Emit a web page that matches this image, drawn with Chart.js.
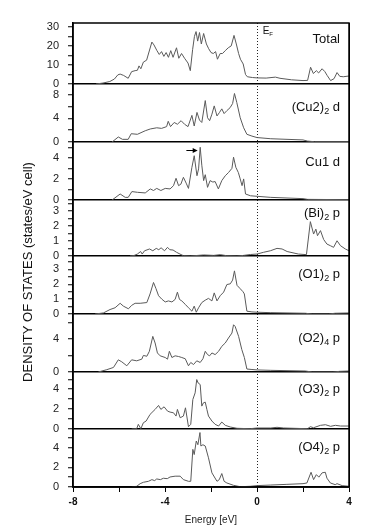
<!DOCTYPE html>
<html>
<head>
<meta charset="utf-8">
<script src="https://cdn.jsdelivr.net/npm/chart.js@4.4.1/dist/chart.umd.min.js"></script>
<style>
  html, body { margin: 0; padding: 0; background: #fff; }
  #wrap { position: relative; width: 374px; height: 532px; }
</style>
</head>
<body>
<div id="wrap"><canvas id="dos"></canvas></div>
<script>
// Energy (eV) and DOS values, one pair of arrays per panel
const totalE = [-7.0, -6.7, -6.4, -6.2, -6.05, -5.95, -5.8, -5.6, -5.45, -5.3, -5.2, -5.13, -5.05, -4.94, -4.8, -4.57, -4.48, -4.35, -4.25, -4.15, -4.05, -3.95, -3.85, -3.75, -3.65, -3.5, -3.4, -3.28, -3.15, -3.0, -2.9, -2.8, -2.72, -2.65, -2.58, -2.5, -2.42, -2.32, -2.2, -2.1, -2.0, -1.9, -1.8, -1.72, -1.6, -1.5, -1.38, -1.25, -1.12, -1.0, -0.9, -0.8, -0.72, -0.6, -0.5, -0.42, -0.2, 0, 0.4, 0.8, 1.0, 1.5, 2.0, 2.2, 2.33, 2.45, 2.58, 2.68, 2.83, 2.95, 3.05, 3.2, 3.35, 3.48, 3.6, 3.75, 4.0];
const totalDos = [0, 0.5, 1.3, 2.6, 4.8, 5.2, 4.5, 3.0, 6.5, 7.0, 7.2, 9.5, 8.0, 11.5, 12.5, 22, 20.5, 17.5, 15.5, 17, 14.5, 16.5, 14, 17.5, 14, 19, 13.5, 16, 13.5, 11, 7, 18, 25, 27.5, 22.5, 27, 21, 26.5, 21, 18.5, 16.5, 16, 17, 13, 16, 16, 17.5, 19, 20, 25.5, 21, 16, 13, 10.5, 5, 3.8, 3.4, 3.2, 3.1, 3.6, 3.0, 2.2, 1.8, 1.9, 8.8, 5.5, 7.0, 5.8, 8.0, 6.5, 4.5, 1.8, 2.8, 6.0, 4.0, 3.8, 4.2];

const cu2E = [-6.3, -6.03, -5.85, -5.6, -5.47, -5.2, -4.86, -4.64, -4.36, -4.15, -3.93, -3.86, -3.76, -3.6, -3.46, -3.3, -3.15, -3.0, -2.83, -2.73, -2.61, -2.5, -2.4, -2.25, -2.15, -2.06, -1.96, -1.86, -1.74, -1.63, -1.53, -1.43, -1.31, -1.17, -1.06, -0.98, -0.88, -0.73, -0.58, -0.44, -0.22, 0, 0.6, 2.0, 2.2, 2.5, 4.0];
const cu2Dos = [0, 0.85, 0.45, 0.45, 1.4, 1.3, 1.9, 2.2, 2.4, 2.3, 2.6, 3.5, 2.6, 3.3, 3.0, 3.6, 3.0, 2.6, 4.5, 2.7, 5.0, 3.7, 3.3, 7.0, 4.1, 3.6, 4.7, 6.1, 4.4, 5.0, 5.6, 4.8, 5.3, 5.8, 6.5, 8.2, 6.7, 4.1, 2.4, 1.3, 1.0, 0.75, 0.55, 0.35, 0.15, 0.05, 0.05];

const cu1E = [-6.3, -5.95, -5.73, -5.6, -5.44, -5.2, -4.86, -4.64, -4.5, -4.36, -4.18, -3.99, -3.78, -3.63, -3.52, -3.41, -3.31, -3.2, -3.08, -2.98, -2.83, -2.73, -2.61, -2.54, -2.47, -2.4, -2.32, -2.25, -2.15, -2.04, -1.92, -1.82, -1.68, -1.53, -1.38, -1.24, -1.09, -1.02, -0.92, -0.81, -0.73, -0.65, -0.58, -0.5, -0.28, 0, 0.6, 2.0, 2.2, 4.0];
const cu1Dos = [0, 0.57, 0.25, 0.25, 0.8, 0.73, 0.67, 1.05, 0.9, 1.1, 0.9, 1.1, 1.05, 1.36, 2.06, 1.36, 1.5, 2.15, 1.6, 1.1, 3.1, 4.2, 2.3, 2.95, 5.0, 3.3, 1.84, 2.4, 1.2, 1.84, 1.7, 1.75, 1.05, 1.84, 2.3, 2.6, 3.0, 4.06, 3.1, 2.6, 2.0, 1.36, 2.0, 0.57, 0.4, 0.35, 0.25, 0.13, 0.06, 0.03];

const biE = [-5.52, -5.35, -5.2, -5.06, -4.99, -4.89, -4.67, -4.53, -4.38, -4.27, -4.17, -4.02, -3.89, -3.79, -3.65, -3.5, -3.35, -3.2, -2.9, -2.32, -1.88, -1.6, -1.31, -0.87, -0.58, -0.29, 0, 0.29, 0.58, 0.87, 1.09, 1.31, 1.8, 2.15, 2.32, 2.46, 2.56, 2.63, 2.76, 2.9, 3.04, 3.19, 3.33, 3.48, 3.63, 3.84, 4.0];
const biDos = [0, 0.03, 0.13, 0.3, 0.13, 0.35, 0.47, 0.35, 0.51, 0.42, 0.55, 0.35, 0.58, 0.42, 0.4, 0.25, 0.13, 0.02, 0, 0.07, 0.04, 0.09, 0.02, 0, 0.04, 0.1, 0.13, 0.25, 0.35, 0.51, 0.47, 0.3, 0.13, 0.09, 2.3, 1.47, 1.8, 1.36, 1.7, 1.1, 0.8, 0.69, 0.58, 1.02, 0.69, 0.47, 0.35];

const o1E = [-7.04, -6.68, -6.39, -6.17, -5.95, -5.81, -5.59, -5.45, -5.3, -5.08, -4.79, -4.65, -4.5, -4.39, -4.28, -4.14, -3.99, -3.85, -3.7, -3.56, -3.46, -3.37, -3.27, -3.12, -2.98, -2.83, -2.73, -2.64, -2.54, -2.4, -2.25, -2.11, -1.96, -1.86, -1.74, -1.6, -1.45, -1.31, -1.16, -1.06, -0.98, -0.87, -0.73, -0.61, -0.55, -0.44, -0.22, 0, 0.6, 2.1, 2.4, 3.1, 3.4, 4.0];
const o1Dos = [0, 0.07, 0.3, 0.42, 0.72, 0.53, 0.35, 0.58, 0.72, 0.72, 0.77, 1.35, 2.12, 1.7, 1.23, 1.0, 0.81, 0.88, 0.81, 0.98, 1.47, 0.98, 0.88, 0.65, 0.42, 0.19, 0.53, 0.12, 0.42, 0.77, 0.93, 1.05, 0.88, 1.42, 0.88, 1.23, 1.47, 1.98, 2.03, 2.28, 2.9, 1.93, 1.7, 1.5, 1.35, 0.19, 0.14, 0.12, 0.09, 0.05, 0, 0, 0.05, 0.07];

const o2E = [-6.9, -6.53, -6.24, -6.03, -5.88, -5.66, -5.45, -5.23, -5.01, -4.94, -4.79, -4.68, -4.53, -4.43, -4.33, -4.21, -3.99, -3.89, -3.81, -3.7, -3.56, -3.41, -3.27, -3.12, -2.98, -2.88, -2.76, -2.62, -2.47, -2.35, -2.25, -2.15, -2.06, -1.96, -1.82, -1.67, -1.53, -1.38, -1.24, -1.09, -1.02, -0.95, -0.8, -0.66, -0.55, -0.44, -0.22, 0, 0.6, 2.1, 2.4, 3.3, 3.6, 4.0];
const o2Dos = [0, 0.28, 0.55, 1.47, 1.23, 0.75, 1.47, 1.35, 1.55, 2.0, 1.9, 2.5, 4.3, 3.5, 2.3, 1.95, 1.75, 1.55, 2.5, 1.75, 1.95, 1.87, 1.75, 1.6, 0.75, 1.15, 0.9, 1.35, 1.15, 1.6, 2.5, 2.1, 1.95, 2.3, 2.1, 2.5, 3.1, 3.5, 4.1, 4.7, 5.7, 5.5, 4.3, 2.7, 1.75, 0.36, 0.3, 0.25, 0.2, 0.12, 0, 0, 0.08, 0.12];

const o3E = [-5.45, -5.23, -5.16, -5.05, -4.94, -4.82, -4.65, -4.43, -4.28, -4.18, -4.04, -3.89, -3.78, -3.63, -3.52, -3.46, -3.34, -3.2, -3.11, -2.98, -2.88, -2.79, -2.69, -2.62, -2.56, -2.47, -2.4, -2.33, -2.25, -2.18, -2.11, -1.96, -1.82, -1.67, -1.53, -1.38, -1.16, -0.87, -0.3, 0, 0.6, 0.87, 1.16, 2.2, 2.32, 2.46, 2.76, 2.98, 3.2, 3.41, 3.63, 4.0];
const o3Dos = [0, 0.03, 0.47, 0.03, 0.63, 0.8, 1.47, 1.97, 2.37, 1.97, 2.23, 1.8, 1.7, 1.63, 1.3, 1.97, 1.13, 1.3, 2.13, 0.23, 0.47, 2.97, 3.63, 4.97, 4.63, 4.47, 2.3, 2.63, 2.7, 1.97, 1.3, 0.8, 0.47, 0.3, 0.7, 0.37, 0.2, 0.07, 0.03, 0.1, 0.1, 0.17, 0.1, 0.03, 0.23, 0.13, 0.37, 0.43, 0.27, 0.37, 0.3, 0.3];

const o4E = [-5.45, -5.23, -5.08, -4.94, -4.72, -4.57, -4.45, -4.36, -4.2, -4.07, -3.9, -3.78, -3.56, -3.34, -3.2, -2.98, -2.88, -2.79, -2.73, -2.64, -2.57, -2.48, -2.44, -2.35, -2.25, -2.11, -1.96, -1.74, -1.64, -1.53, -1.43, -1.31, -1.02, -0.73, -0.3, 0, 0.6, 1.3, 2.0, 2.17, 2.35, 2.46, 2.58, 2.69, 2.83, 2.97, 3.04, 3.19, 3.4, 3.48, 3.7, 4.0];
const o4Dos = [0, 0.07, 0.34, 0.48, 0.58, 0.75, 0.65, 0.82, 0.75, 0.89, 0.85, 1.02, 1.1, 1.1, 0.75, 0.58, 0.58, 3.83, 3.3, 4.68, 4.3, 5.54, 4.17, 4.3, 4.17, 2.97, 1.44, 0.58, 0.75, 1.37, 0.58, 0.41, 0.17, 0.03, 0.07, 0.14, 0.2, 0.27, 0.34, 0.41, 1.5, 0.75, 1.26, 1.0, 1.44, 1.5, 0.9, 0.41, 0.24, 0.34, 0.14, 0.07];

// panel labels: [text, subscript, text after subscript]
const panelLabels = [
  ['Total', '', ''],
  ['(Cu2)', '2', ' d'],
  ['Cu1 d', '', ''],
  ['(Bi)', '2', ' p'],
  ['(O1)', '2', ' p'],
  ['(O2)', '4', ' p'],
  ['(O3)', '2', ' p'],
  ['(O4)', '2', ' p'],
];
const panelE = [totalE, cu2E, cu1E, biE, o1E, o2E, o3E, o4E];
const panelDos = [totalDos, cu2Dos, cu1Dos, biDos, o1Dos, o2Dos, o3Dos, o4Dos];

// y axes per panel
const yMax = [32, 9.8, 5.5, 3.75, 3.9, 7, 5.73, 5.9];
const yStep = [5, 2, 1, 0.5, 0.5, 2, 1, 1];
const yLabelStep = [10, 4, 2, 1, 1, 4, 2, 2];

// x axis
const xTicks = [-8, -6, -4, -2, 0, 2, 4];
const xTickLabels = [-8, -4, 0, 4];

// arrow marking the Cu1 d peak (from, to, level)
const arrowFrom = -3.07, arrowTo = -2.58, arrowLevel = 4.76;

// layout (px)
const panelWeights = [61, 58, 58, 56, 58, 58, 57, 58];
const labelTop = [16, 23, 20, 13, 18, 24, 17, 18];
const FONT = "'Liberation Sans', Arial, Helvetica, sans-serif";
const LINE = '#5a5a5a';

function isMultiple(v, step) {
  const r = v / step;
  return Math.abs(r - Math.round(r)) < 1e-6;
}

function drawParts(ctx, parts, xRight, y, big, small) {
  ctx.font = `${big}px ${FONT}`;
  const w0 = ctx.measureText(parts[0]).width;
  const w2 = ctx.measureText(parts[2]).width;
  ctx.font = `${small}px ${FONT}`;
  const w1 = ctx.measureText(parts[1]).width;
  let x = xRight - (w0 + w1 + w2);
  ctx.font = `${big}px ${FONT}`;
  ctx.fillText(parts[0], x, y);
  x += w0;
  ctx.font = `${small}px ${FONT}`;
  ctx.fillText(parts[1], x, y + big * 0.35);
  x += w1;
  ctx.font = `${big}px ${FONT}`;
  ctx.fillText(parts[2], x, y);
}

const overlay = {
  id: 'overlay',
  afterDraw(chart) {
    const { ctx, chartArea: a, scales: s } = chart;
    ctx.save();
    // frame
    ctx.strokeStyle = '#000';
    ctx.lineWidth = 1.5;
    ctx.strokeRect(a.left, a.top, a.right - a.left, a.bottom - a.top);

    ctx.fillStyle = '#111';
    ctx.textAlign = 'left';
    ctx.textBaseline = 'middle';
    panelLabels.forEach((parts, i) => {
      drawParts(ctx, parts, a.right - 9, s['y' + i].top + labelTop[i], 13, 9);
    });

    // E_F
    const x0 = s.x.getPixelForValue(0);
    drawParts(ctx, ['E', 'F', ''], x0 + 4 + 12, a.top + 8, 10, 6);

    // arrow in Cu1 d panel
    const ay = Math.round(s.y2.getPixelForValue(arrowLevel)) + 0.5;
    const ax1 = s.x.getPixelForValue(arrowFrom);
    const ax2 = s.x.getPixelForValue(arrowTo);
    ctx.strokeStyle = '#000';
    ctx.lineWidth = 1;
    ctx.beginPath();
    ctx.moveTo(ax1, ay);
    ctx.lineTo(ax2 - 3, ay);
    ctx.stroke();
    ctx.fillStyle = '#000';
    ctx.beginPath();
    ctx.moveTo(ax2, ay);
    ctx.lineTo(ax2 - 5, ay - 2.5);
    ctx.lineTo(ax2 - 5, ay + 2.5);
    ctx.closePath();
    ctx.fill();

    // y title
    ctx.fillStyle = '#111';
    ctx.translate(28, 272);
    ctx.rotate(-Math.PI / 2);
    ctx.textAlign = 'center';
    ctx.font = `13px ${FONT}`;
    ctx.fillText('DENSITY OF STATES (states/eV cell)', 0, 0);
    ctx.restore();
  }
};

const scales = {
  x: {
    type: 'linear',
    min: -8,
    max: 4,
    afterBuildTicks: (sc) => { sc.ticks = xTicks.map((v) => ({ value: v })); },
    afterFit: (sc) => { sc.height = 45; },
    ticks: {
      autoSkip: false,
      maxRotation: 0,
      padding: 4,
      color: '#111',
      font: { family: FONT, size: 10, weight: 'bold' },
      callback: (v) => (xTickLabels.includes(v) ? String(v) : ''),
    },
    grid: {
      color: (c) => {
        if (!c.tick) return 'rgba(0,0,0,0)';
        if (c.tick.value === 0) return '#222';
        if (c.tick.value === 4) return '#000';
        return 'rgba(0,0,0,0)';
      },
      lineWidth: 1,
      tickColor: '#000',
      tickLength: 5,
      tickWidth: 1,
    },
    border: {
      color: '#000',
      width: 1.5,
      dash: (c) => (c.tick && c.tick.value === 0 ? [1, 2] : []),
    },
    title: {
      display: true,
      text: 'Energy [eV]',
      color: '#222',
      font: { family: FONT, size: 10 },
      padding: { top: 0, bottom: 6 },
    },
  },
};

// stacked y axes, defined bottom panel first
for (let i = panelLabels.length - 1; i >= 0; i--) {
  scales['y' + i] = {
    type: 'linear',
    position: 'left',
    stack: 'dos',
    stackWeight: panelWeights[i],
    min: 0,
    max: yMax[i],
    afterBuildTicks: (sc) => {
      const t = [];
      for (let k = 0; k * yStep[i] <= yMax[i] + 1e-9; k++) t.push({ value: +(k * yStep[i]).toFixed(3) });
      sc.ticks = t;
    },
    afterFit: (sc) => { sc.width = 73; },
    ticks: {
      autoSkip: false,
      padding: 9,
      color: '#222',
      font: { family: FONT, size: 11 },
      callback: (v) => (isMultiple(v, yLabelStep[i]) ? String(v) : ''),
    },
    grid: {
      color: (c) => (c.tick && c.tick.value === 0 ? '#000' : 'rgba(0,0,0,0)'),
      lineWidth: 1.5,
      tickColor: '#000',
      tickLength: 5,
      tickWidth: 1,
    },
    border: { color: '#000', width: 1.5 },
  };
}

const datasets = panelE.map((xs, i) => ({
  label: panelLabels[i].join(''),
  data: xs.map((x, k) => ({ x, y: panelDos[i][k] })),
  xAxisID: 'x',
  yAxisID: 'y' + i,
  borderColor: LINE,
  borderWidth: 1,
  pointRadius: 0,
  tension: 0,
  fill: false,
}));

new Chart(document.getElementById('dos'), {
  type: 'line',
  data: { datasets },
  options: {
    responsive: true,
    maintainAspectRatio: false,
    animation: false,
    layout: { padding: { top: 23, right: 25, left: 0, bottom: 0 } },
    plugins: { legend: { display: false }, tooltip: { enabled: false } },
    scales,
  },
  plugins: [overlay],
});
</script>
</body>
</html>
